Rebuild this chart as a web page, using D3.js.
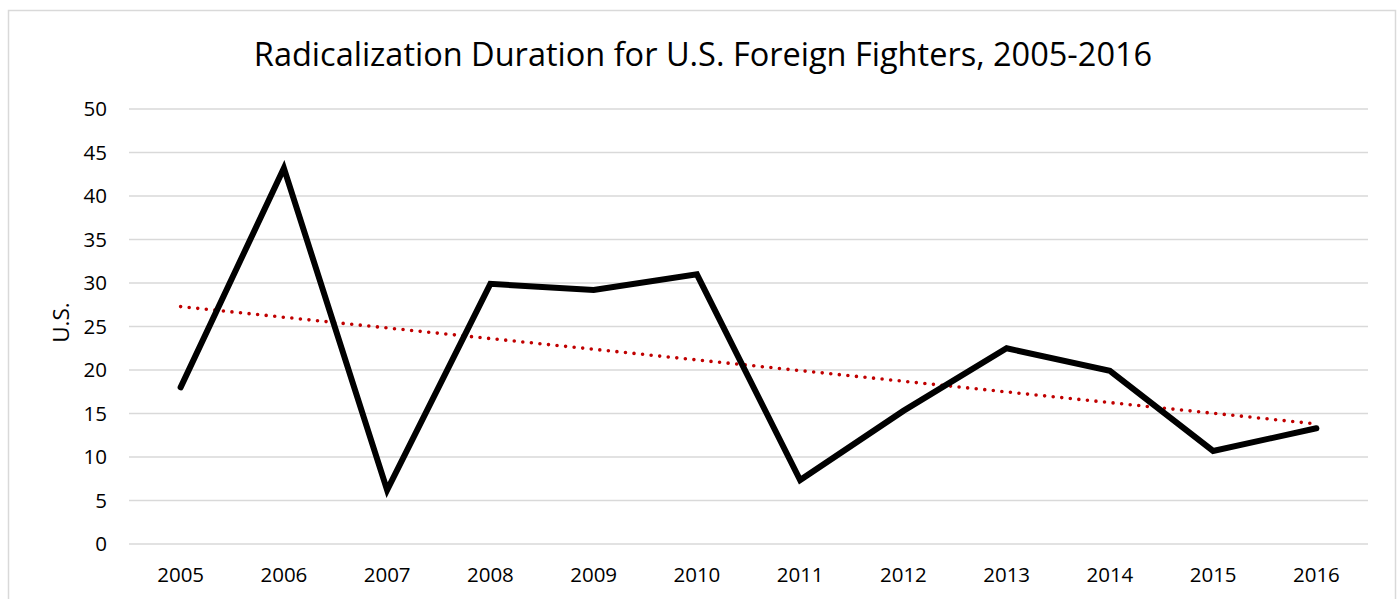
<!DOCTYPE html>
<html>
<head>
<meta charset="utf-8">
<script src="https://cdn.jsdelivr.net/npm/d3@7"></script>
<style>
  body { margin: 0; background: #fff; }
  text { font-family: "Open Sans", sans-serif; fill: #000; }
</style>
</head>
<body>
<div class="chart"></div>
<script>
// data
const years = ['2005', '2006', '2007', '2008', '2009', '2010', '2011', '2012', '2013', '2014', '2015', '2016'];
const usValues = [18.0, 43.2, 6.2, 29.9, 29.2, 31.0, 7.35, 15.3, 22.5, 19.9, 10.7, 13.3];
const yTicks = [0, 5, 10, 15, 20, 25, 30, 35, 40, 45, 50];

const W = 1397, H = 599;
const margin = ({top: 109, right: 29, bottom: 55, left: 129});
const width = W - margin.left - margin.right;
const height = H - margin.top - margin.bottom;

const svg = d3.select('.chart').append('svg')
    .attr('width', W)
    .attr('height', H);

// chart frame
svg.append('rect')
    .attr('x', 8.5).attr('y', 10.5)
    .attr('width', 1387).attr('height', 600)
    .attr('fill', 'none')
    .attr('stroke', '#d9d9d9')
    .attr('stroke-width', 1.5);

const g = svg.append('g')
    .attr('transform', "translate(" + margin.left + "," + margin.top + ")");

//scales
const xScale = d3.scaleBand()
    .domain(years)
    .range([0, width]);

const yScale = d3.scaleLinear()
    .domain([0, 50])
    .range([height, 0]);

const xc = d => xScale(d) + xScale.bandwidth() / 2;

//gridlines
g.selectAll('.grid')
    .data(yTicks)
    .enter()
    .append('line')
    .attr('x1', 0).attr('x2', width)
    .attr('y1', d => yScale(d)).attr('y2', d => yScale(d))
    .attr('stroke', '#d9d9d9')
    .attr('stroke-width', 1.5);

//axes
const yAxis = d3.axisLeft(yScale).tickValues(yTicks).tickSize(0).tickPadding(22);
g.append('g')
    .call(yAxis)
    .call(s => s.select('.domain').remove())
    .selectAll('text')
    .attr('font-size', 20.5)
    .attr('font-family', '"Open Sans", sans-serif');

const xAxis = d3.axisBottom(xScale).tickSize(0).tickPadding(23);
g.append('g')
    .attr('transform', "translate(0," + height + ")")
    .call(xAxis)
    .call(s => s.select('.domain').remove())
    .selectAll('text')
    .attr('font-size', 20.5)
    .attr('font-family', '"Open Sans", sans-serif');

//trendline (least squares, like the spreadsheet's linear trend)
const idx = years.map((d, i) => i);
const mx = d3.mean(idx), my = d3.mean(usValues);
const slope = d3.sum(idx, i => (i - mx) * (usValues[i] - my)) / d3.sum(idx, i => (i - mx) ** 2);
const icpt = my - slope * mx;
const trend = [0, years.length - 1].map(i => ({year: years[i], v: icpt + slope * i}));

g.append('path')
    .datum(trend)
    .attr('fill', 'none')
    .attr('stroke', '#c00000')
    .attr('stroke-width', 3.6)
    .attr('stroke-linecap', 'round')
    .attr('stroke-dasharray', '0 8.6')
    .attr('d', d3.line().x(d => xc(d.year)).y(d => yScale(d.v)));

//main line
const line = d3.line()
    .x((d, i) => xc(years[i]))
    .y(d => yScale(d));

g.append('path')
    .datum(usValues)
    .attr('fill', 'none')
    .attr('stroke', '#000')
    .attr('stroke-width', 6)
    .attr('stroke-linejoin', 'miter')
    .attr('stroke-linecap', 'round')
    .attr('d', line);

//title
svg.append('text')
    .attr('x', 703)
    .attr('y', 66)
    .attr('text-anchor', 'middle')
    .attr('font-size', 32.5)
    .text('Radicalization Duration for U.S. Foreign Fighters, 2005-2016');

//y label
svg.append('text')
    .attr('transform', 'translate(69,' + (margin.top + height / 2 - 4) + ') rotate(-90)')
    .attr('text-anchor', 'middle')
    .attr('font-size', 22.5)
    .text('U.S.');
</script>
</body>
</html>
